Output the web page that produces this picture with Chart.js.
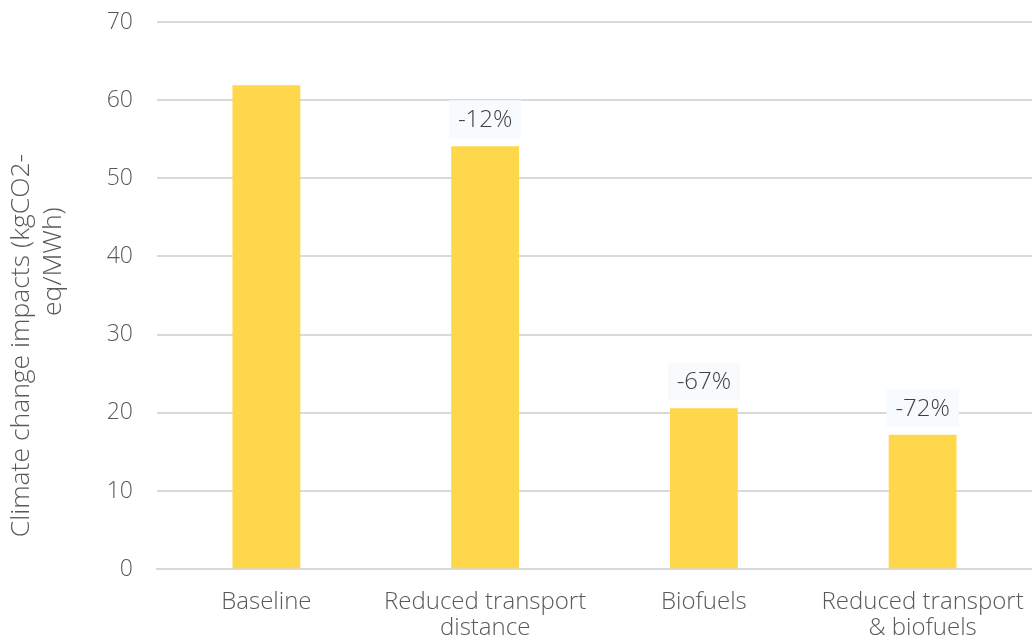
<!DOCTYPE html>
<html>
<head>
<meta charset="utf-8">
<script src="https://cdn.jsdelivr.net/npm/chart.js@4"></script>
<style>
  html, body { margin: 0; padding: 0; background: #fff; overflow: hidden; }
  canvas { display: block; }
</style>
</head>
<body>
<canvas id="impactChart" width="1032" height="641"></canvas>
<script>
// scenarios and their climate change impacts
const scenarios = ['Baseline', ['Reduced transport', 'distance'], 'Biofuels', ['Reduced transport', '& biofuels']];
const impacts = [61.9, 54.1, 20.6, 17.2];
const changeLabels = ['', '-12%', '-67%', '-72%'];
const yTicks = [0, 10, 20, 30, 40, 50, 60, 70];
const axisTitle = ['Climate change impacts (kgCO2-', 'eq/MWh)'];

const FONT = '"Open Sans", Lato, sans-serif';
const WEIGHT = 300;

// little boxes with the % change above each bar
const changeLabelPlugin = {
  id: 'changeLabels',
  afterDatasetsDraw(chart) {
    const ctx = chart.ctx;
    const meta = chart.getDatasetMeta(0);
    ctx.save();
    ctx.font = WEIGHT + ' 24px ' + FONT;
    ctx.textAlign = 'center';
    ctx.textBaseline = 'middle';
    meta.data.forEach((bar, i) => {
      const txt = changeLabels[i];
      if (!txt) return;
      const w = ctx.measureText(txt).width + 18;
      const h = 38;
      const cy = bar.y - 8 - h / 2;
      ctx.fillStyle = '#F8FBFD';
      ctx.fillRect(bar.x - w / 2, cy - h / 2, w, h);
      ctx.fillStyle = '#404040';
      ctx.fillText(txt, bar.x, cy + 1);
    });
    ctx.restore();
  }
};

// rotated two-line y axis title
const axisTitlePlugin = {
  id: 'axisTitle',
  afterDraw(chart) {
    const ctx = chart.ctx;
    const area = chart.chartArea;
    const mid = (area.top + area.bottom) / 2;
    const spots = [{ x: 29, y: mid + 50 }, { x: 61, y: mid - 34 }];
    ctx.save();
    ctx.font = WEIGHT + ' 26.5px ' + FONT;
    ctx.fillStyle = '#595959';
    ctx.textAlign = 'center';
    ctx.textBaseline = 'alphabetic';
    axisTitle.forEach((line, i) => {
      ctx.save();
      ctx.translate(spots[i].x, spots[i].y);
      ctx.rotate(-Math.PI / 2);
      ctx.fillText(line, 0, 0);
      ctx.restore();
    });
    ctx.restore();
  }
};

// keep tick labels from pushing the plot area in
function noScalePadding(axis) {
  axis.paddingTop = 0;
  axis.paddingBottom = 0;
  axis.paddingLeft = 0;
  axis.paddingRight = 0;
}

new Chart(document.getElementById('impactChart'), {
  type: 'bar',
  data: {
    labels: scenarios,
    datasets: [{
      data: impacts,
      backgroundColor: '#FFD74A',
      categoryPercentage: 1,
      barPercentage: 0.31
    }]
  },
  options: {
    responsive: false,
    animation: false,
    layout: { padding: { top: 22, right: 0, left: 0, bottom: -20 } },
    plugins: { legend: { display: false }, tooltip: { enabled: false } },
    scales: {
      x: {
        afterFit: noScalePadding,
        grid: { display: false, drawTicks: false },
        border: { color: '#D9D9D9', width: 2 },
        ticks: {
          color: '#595959',
          font: { family: FONT, size: 24, weight: WEIGHT, lineHeight: 1.08 },
          padding: 20,
          maxRotation: 0,
          autoSkip: false
        }
      },
      y: {
        min: 0,
        max: 70,
        afterFit(axis) {
          noScalePadding(axis);
          axis.width = 157;
        },
        afterBuildTicks(axis) { axis.ticks = yTicks.map(v => ({ value: v })); },
        grid: { color: '#D9D9D9', lineWidth: 2, drawTicks: false },
        border: { display: false },
        ticks: {
          color: '#595959',
          font: { family: FONT, size: 23, weight: WEIGHT },
          padding: 24
        }
      }
    }
  },
  plugins: [changeLabelPlugin, axisTitlePlugin]
});
</script>
</body>
</html>
